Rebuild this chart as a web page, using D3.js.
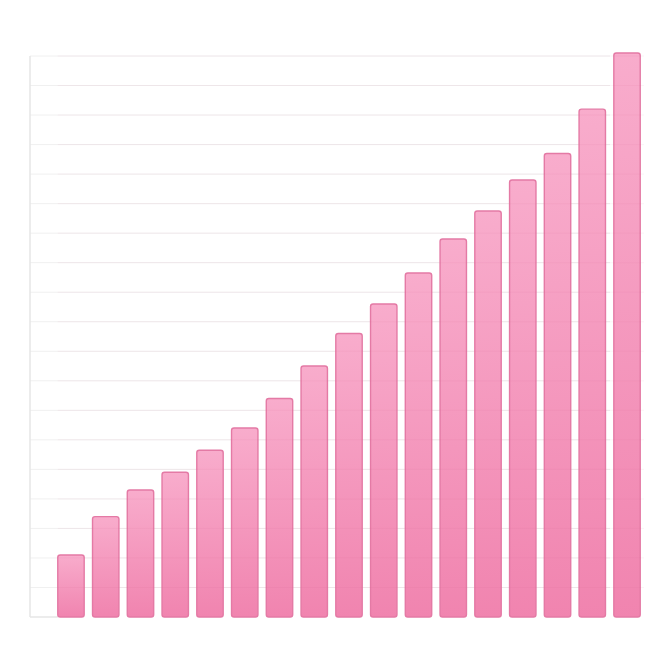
<!DOCTYPE html>
<html>
<head>
<meta charset="utf-8">
<script src="https://cdn.jsdelivr.net/npm/d3@7"></script>
<style>
  html, body { margin: 0; padding: 0; background: #fff; }
  svg { display: block; }
</style>
</head>
<body>
<div id="chart"></div>
<script>
// bar values (no axis labels in the original)
let categories = d3.range(1, 18).map(function(i) { return "c" + i; });
let values = [21, 34, 43, 49, 56.5, 64, 74, 85, 96, 106, 116.5, 128, 137.5, 148, 157, 172, 191];
let gridTicks = d3.range(10, 200, 10);

let width = 669, height = 669;
let frame = {left: 30, top: 56, bottom: 617, right: 644};

let svg = d3.select("#chart").append("svg")
    .attr("width", width)
    .attr("height", height);

let x = d3.scaleBand()
    .domain(categories)
    .range([53.6, 644.4])
    .paddingInner(0.24)
    .paddingOuter(0.12);

let y = d3.scaleLinear()
    .domain([0, 190])
    .range([frame.bottom, frame.top]);

// gradient for the bars: lighter on top
let defs = svg.append("defs");
let grad = defs.append("linearGradient")
    .attr("id", "barGrad")
    .attr("x1", 0).attr("y1", 0)
    .attr("x2", 0).attr("y2", 1);
grad.append("stop").attr("offset", "0%").attr("stop-color", "#f8a9ca");
grad.append("stop").attr("offset", "100%").attr("stop-color", "#f07fac");

// faint gridlines
svg.append("g")
    .selectAll("line")
    .data(gridTicks)
    .enter().append("line")
    .attr("x1", frame.left)
    .attr("x2", frame.right - 34)
    .attr("y1", function(d) { return y(d); })
    .attr("y2", function(d) { return y(d); })
    .attr("stroke", "#f0f0f0")
    .attr("stroke-width", 1);

// left edge of the frame
svg.append("line")
    .attr("x1", frame.left).attr("x2", frame.left)
    .attr("y1", frame.top).attr("y2", frame.bottom)
    .attr("stroke", "#e6e6e6")
    .attr("stroke-width", 1.5);
svg.append("line")
    .attr("x1", frame.left).attr("x2", x(categories[0]))
    .attr("y1", frame.bottom).attr("y2", frame.bottom)
    .attr("stroke", "#e6e6e6")
    .attr("stroke-width", 1.5);

// bars
svg.append("g")
    .selectAll("rect")
    .data(values)
    .enter().append("rect")
    .attr("x", function(d, i) { return x(categories[i]); })
    .attr("y", function(d) { return y(d); })
    .attr("width", x.bandwidth())
    .attr("height", function(d) { return y(0) - y(d); })
    .attr("rx", 2.5)
    .attr("ry", 2.5)
    .attr("fill", "url(#barGrad)")
    .attr("fill-opacity", 0.96)
    .attr("stroke", "#e47aa5")
    .attr("stroke-width", 1.4);

// the gridlines show faintly through the bars
svg.append("g")
    .selectAll("line")
    .data(gridTicks)
    .enter().append("line")
    .attr("x1", x(categories[0]))
    .attr("x2", frame.right)
    .attr("y1", function(d) { return y(d); })
    .attr("y2", function(d) { return y(d); })
    .attr("stroke", "#d0668f")
    .attr("stroke-opacity", 0.07)
    .attr("stroke-width", 1);
</script>
</body>
</html>
